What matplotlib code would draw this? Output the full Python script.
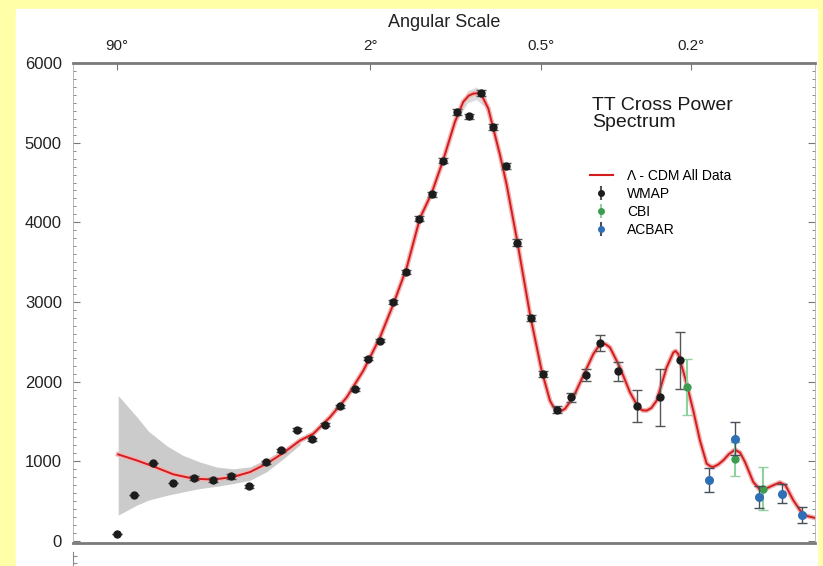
import numpy as np
import matplotlib.pyplot as plt
from matplotlib.patches import Rectangle
from matplotlib.lines import Line2D
from matplotlib.ticker import MultipleLocator

plt.rcParams['font.family'] = ['Liberation Sans', 'DejaVu Sans']

#-----------------Data-------------------------------------------------
# multipole l and l(l+1)C_l/2pi
model_l = [2.06, 3.19, 4.54, 6.71, 9.57, 13.3, 17.9, 22.7, 28.3, 34.9, 42.7, 49.7,
           59.7, 71.2, 84.1, 98.8, 111.9, 126.3, 142.0, 156.9, 172.8, 190.1, 203.1,
           212.0, 219.7, 227.0, 234.4, 246.4, 255.8, 268.9, 282.4, 303.5, 333.5,
           361.6, 382.6, 392.0, 400.2, 411.0, 422.9, 446.5, 476.2, 507.4, 522.0,
           534.8, 548.0, 562.9, 598.2, 635.1, 667.1, 684.0, 700.7, 720.0, 742.2,
           785.6, 815.3, 826.0, 838.3, 870.0, 910.4, 944.0, 978.5, 1000.0, 1013.5,
           1040.0, 1068.0, 1100.0, 1135.0, 1165.0, 1195.0, 1246.0, 1290.0, 1330.0,
           1376.0, 1421.0, 1460.0, 1516.0, 1590.0, 1680.0]
model_d = [1087, 1012, 937, 837, 783, 771, 804, 866, 971, 1104, 1262, 1346,
           1554, 1804, 2137, 2554, 2971, 3429, 4054, 4366, 4784, 5262, 5512,
           5590, 5616, 5620, 5596, 5429, 5179, 4846, 4471, 3804, 2846,
           2137, 1762, 1680, 1637, 1630, 1659, 1804, 2075, 2346, 2430,
           2471, 2470, 2429, 2179, 1866, 1679, 1640, 1637, 1670, 1762,
           2179, 2366, 2385, 2346, 2054, 1637, 1262, 971, 935, 929,
           960, 1012, 1090, 1146, 1110, 991, 740, 640, 660,
           700, 735, 700, 512, 325, 290]

band_l = [2.06, 3.19, 4.1, 6.0, 8.0, 10.7, 14.0, 17.9, 22.7, 28.3, 34.9, 42.7]
band_hi = [1825, 1560, 1380, 1190, 1075, 991, 929, 905, 930, 1030, 1150, 1300]
band_lo = [325, 450, 512, 575, 616, 659, 687, 721, 762, 870, 1030, 1210]

peak_l = [195, 210, 225, 240, 252]
peak_hi = [5400, 5650, 5700, 5610, 5330]
peak_lo = [5300, 5500, 5540, 5450, 5200]

wmap_l = [2.0, 3.0, 4.5, 6.67, 9.63, 13.26, 17.25, 22.46, 27.96, 33.94, 41.04, 49.13,
          56.56, 66.17, 77.43, 88.08, 98.84, 111.9, 125.5, 141.1, 156.9, 172.8,
          192.7, 212.4, 233.1, 254.7, 281.0, 304.2, 335.8, 364.1, 400.2, 439.8,
          484.5, 529.1, 589.9, 660.8, 757.6, 846.3]
wmap_d = [90, 575, 979, 729, 791, 766, 812, 687, 987, 1137, 1396, 1275,
          1462, 1691, 1904, 2287, 2512, 3000, 3371, 4046, 4354, 4775,
          5384, 5329, 5625, 5196, 4709, 3746, 2796, 2096, 1646, 1804,
          2087, 2491, 2129, 1700, 1804, 2271]
wmap_err = [0, 0, 0, 0, 20, 25, 30, 20, 20, 20, 20, 20,
            20, 20, 20, 20, 20, 25, 25, 30, 30, 30,
            35, 35, 40, 40, 40, 40, 40, 40, 45, 55,
            75, 100, 120, 200, 360, 358]

cbi_l = [878.1, 1135.0, 1310.0]
cbi_d = [1931, 1025, 658]
cbi_err = [355, 215, 270]

acbar_l = [990.6, 1135.0, 1281.9, 1433.4, 1582.3]
acbar_d = [771, 1284, 554, 596, 325]
acbar_err = [150, 210, 135, 125, 105]

angle_l = [2, 90, 360, 900]
angle_labels = ['90°', '2°', '0.5°', '0.2°']

#-----------------Figure--------------------------
W, H = 823, 566
fig = plt.figure(figsize=(W / 100, H / 100), dpi=100, facecolor='#ffffa8')
fig.patches.append(Rectangle((16 / W, 0), (817 - 16) / W, (H - 9) / H,
                             transform=fig.transFigure, color='white', zorder=-5))

ax = fig.add_axes([73 / W, (H - 543) / H, 742 / W, 480 / H], zorder=2)
ax.set_xscale('function', functions=(lambda l: np.power(np.clip(l, 1e-9, None), 0.25),
                                     lambda u: np.power(u, 4)))

ax.fill_between(band_l, band_lo, band_hi, color='#cbcbcb', lw=0, zorder=1)
ax.fill_between(peak_l, peak_lo, peak_hi, color='#dcdcdc', lw=0, zorder=1)
ax.plot(model_l, model_d, color='#f0b4b4', lw=3.5, solid_joinstyle='round', zorder=2)
ax.plot(model_l, model_d, color='#d41c1c', lw=1.4, solid_joinstyle='round', zorder=3)

ax.errorbar(wmap_l, wmap_d, yerr=wmap_err, fmt='o', ms=5, color='#1c1c1c',
            ecolor='#555555', elinewidth=1, capsize=3.5, zorder=4)
ax.errorbar(cbi_l, cbi_d, yerr=cbi_err, fmt='o', ms=5, color='#3c9c50',
            ecolor='#8fd19e', elinewidth=1.5, capsize=3.5, zorder=4)
ax.errorbar(acbar_l, acbar_d, yerr=acbar_err, fmt='o', ms=5.5, color='#2f6fb5',
            ecolor='#46505a', elinewidth=1, capsize=3.5, zorder=5)

ax.set_xlim(0.548, 1680)
ax.set_ylim(-25, 6000)

# axes styling
for side in ['left', 'right']:
    ax.spines[side].set_color('#b0b0b0')
    ax.spines[side].set_linewidth(0.6)
for side in ['top', 'bottom']:
    ax.spines[side].set_color('#7a7a7a')
    ax.spines[side].set_linewidth(2)

ax.set_yticks(range(0, 6001, 1000))
ax.yaxis.set_minor_locator(MultipleLocator(100))
ax.tick_params(axis='y', which='both', direction='in', left=True, right=True,
               colors='#777777', labelcolor='#222222', labelsize=12, pad=8)
ax.tick_params(axis='y', which='major', length=5)
ax.tick_params(axis='y', which='minor', length=2.5)

ax.xaxis.tick_top()
ax.set_xticks(angle_l)
ax.set_xticklabels(angle_labels)
ax.xaxis.set_minor_locator(plt.NullLocator())
ax.tick_params(axis='x', which='major', direction='in', length=5, colors='#777777',
               labelcolor='#222222', labelsize=11, pad=7)
ax.xaxis.set_label_position('top')
ax.set_xlabel('Angular Scale', fontsize=13, color='#222222', labelpad=9)

# legend
ax.text(0.699, 0.93, 'TT Cross Power\nSpectrum', transform=ax.transAxes,
        fontsize=14, va='top', ha='left', linespacing=1.0, color='#1a1a1a')
handles = [
    Line2D([], [], color='#d41c1c', lw=1.5),
    ax.errorbar([], [], yerr=[], fmt='o', ms=4, color='#1c1c1c', ecolor='#555555', capsize=2),
    ax.errorbar([], [], yerr=[], fmt='o', ms=4, color='#3c9c50', ecolor='#8fd19e', capsize=2),
    ax.errorbar([], [], yerr=[], fmt='o', ms=4, color='#2f6fb5', ecolor='#46505a', capsize=2),
]
labels = ['Λ - CDM All Data', 'WMAP', 'CBI', 'ACBAR']
ax.legend(handles, labels, loc='upper left', bbox_to_anchor=(0.6968, 0.78),
          frameon=False, fontsize=10, handlelength=1.65, handletextpad=1.0,
          labelspacing=0.3, borderpad=0, borderaxespad=0)

# start of the (cropped) lower axis
ax_lo = fig.add_axes([73 / W, -0.2, 742 / W, 0.2 + (H - 552) / H], zorder=2)
ax_lo.set_facecolor('none')
for side in ['top', 'right', 'bottom']:
    ax_lo.spines[side].set_visible(False)
ax_lo.spines['left'].set_color('#8a8a8a')
ax_lo.set_xticks([])
ax_lo.set_ylim(0, 1)
ax_lo.set_yticks([0.97, 0.91, 0.85])
ax_lo.set_yticklabels([])
ax_lo.tick_params(axis='y', direction='in', length=3, colors='#8a8a8a')

plt.savefig('out.png', dpi=100, facecolor=fig.get_facecolor())
